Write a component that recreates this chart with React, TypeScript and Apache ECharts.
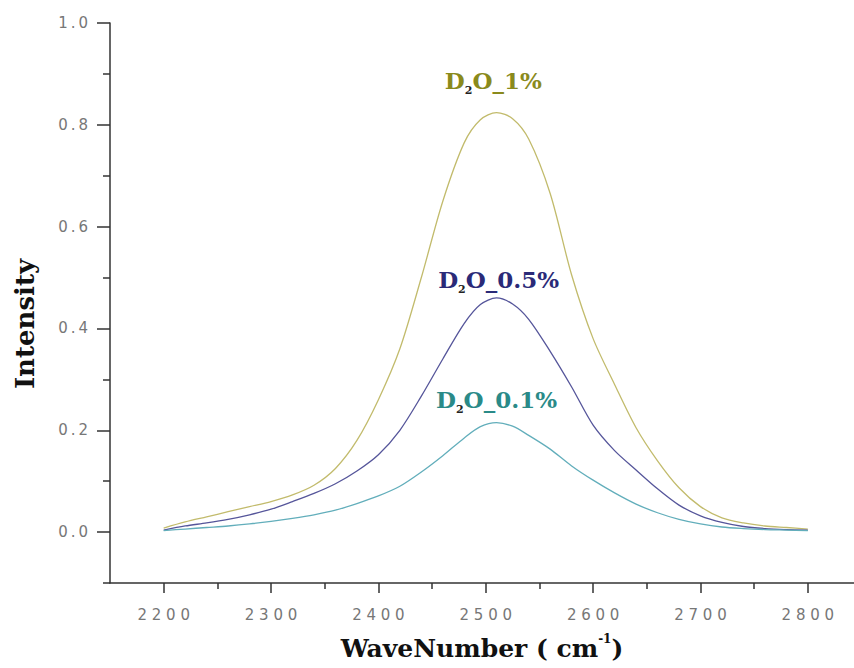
import React, { useEffect, useRef } from "react";
import * as echarts from "echarts";

const waveNumbers = [2200, 2220, 2240, 2260, 2280, 2300, 2320, 2340, 2360, 2380, 2400, 2420, 2440, 2460, 2480, 2495, 2510, 2525, 2540, 2560, 2580, 2600, 2620, 2640, 2660, 2680, 2700, 2720, 2740, 2760, 2780, 2800];
const d2o1 = [0.008, 0.02, 0.03, 0.04, 0.05, 0.06, 0.073, 0.092, 0.125, 0.18, 0.26, 0.36, 0.5, 0.65, 0.765, 0.81, 0.824, 0.812, 0.772, 0.665, 0.505, 0.38, 0.29, 0.205, 0.14, 0.087, 0.05, 0.028, 0.018, 0.012, 0.009, 0.006];
const d2o05 = [0.004, 0.012, 0.018, 0.025, 0.034, 0.045, 0.06, 0.076, 0.095, 0.12, 0.152, 0.2, 0.267, 0.34, 0.41, 0.447, 0.46, 0.448, 0.418, 0.355, 0.285, 0.21, 0.16, 0.122, 0.085, 0.053, 0.032, 0.019, 0.011, 0.007, 0.005, 0.004];
const d2o01 = [0.003, 0.006, 0.009, 0.012, 0.016, 0.021, 0.027, 0.034, 0.043, 0.056, 0.071, 0.09, 0.118, 0.15, 0.185, 0.207, 0.215, 0.208, 0.19, 0.163, 0.13, 0.102, 0.077, 0.055, 0.038, 0.025, 0.016, 0.01, 0.007, 0.005, 0.004, 0.003];

const xMajorTicks = [2200, 2300, 2400, 2500, 2600, 2700, 2800];
const xMinorTicks = [2250, 2350, 2450, 2550, 2650, 2750];
const yMajorTicks = [0, 0.2, 0.4, 0.6, 0.8, 1.0];
const yMinorTicks = [-0.1, 0.1, 0.3, 0.5, 0.7, 0.9];

const seriesDefs = [
  { name: "D2O_1%", values: d2o1, line: "#c2bb6c", text: "#8a8a1c", labelAt: [2507, 0.888], label: "D{sub|2}O_1%" },
  { name: "D2O_0.5%", values: d2o05, line: "#55559a", text: "#2a2a78", labelAt: [2512, 0.496], label: "D{sub|2}O_0.5%" },
  { name: "D2O_0.1%", values: d2o01, line: "#62aebb", text: "#2a8a88", labelAt: [2510, 0.261], label: "D{sub|2}O_0.1%" },
];

const AXIS_COLOR = "#333";
const LABEL_COLOR = "#777";

export default function App() {
  const ref = useRef<HTMLDivElement>(null);
  useEffect(() => {
    if (!ref.current) return;
    const chart = echarts.init(ref.current, null, { renderer: "svg" });
    const xBase = {
      type: "value",
      min: 2150,
      max: 2843,
      gridIndex: 0,
      position: "bottom",
      splitLine: { show: false },
    };
    const yBase = {
      type: "value",
      min: -0.1,
      max: 1.0,
      gridIndex: 0,
      position: "left",
      splitLine: { show: false },
    };
    chart.setOption({
      animation: false,
      backgroundColor: "#fff",
      grid: { left: 110, right: 0, top: 23, bottom: 85, containLabel: false },
      xAxis: [
        {
          ...xBase,
          name: "WaveNumber ( cm{sup|-1})",
          nameLocation: "middle",
          nameGap: 50,
          nameTextStyle: {
            fontFamily: "DejaVu Serif",
            fontWeight: "bold",
            fontSize: 25,
            color: "#111",
            rich: {
              sup: { fontFamily: "DejaVu Serif", fontWeight: "bold", fontSize: 12, color: "#111", padding: [0, 0, 18, 0] },
            },
          },
          axisLine: { show: true, onZero: false, lineStyle: { color: AXIS_COLOR, width: 1.5 } },
          axisTick: { show: true, inside: false, length: 10, customValues: xMajorTicks, lineStyle: { color: AXIS_COLOR, width: 1.5 } },
          axisLabel: {
            customValues: xMajorTicks,
            margin: 24,
            color: LABEL_COLOR,
            fontFamily: "DejaVu Sans",
            fontSize: 15,
            formatter: (v: number) => String(v).split("").join(" "),
          },
        },
        {
          ...xBase,
          axisLine: { show: false, onZero: false },
          axisTick: { show: true, inside: false, length: 6, customValues: xMinorTicks, lineStyle: { color: AXIS_COLOR, width: 1.5 } },
          axisLabel: { show: false },
        },
      ],
      yAxis: [
        {
          ...yBase,
          name: "Intensity",
          nameLocation: "middle",
          nameGap: 72,
          nameTextStyle: { fontFamily: "DejaVu Serif", fontWeight: "bold", fontSize: 26, color: "#111", padding: [0, 42, 0, 0] },
          axisLine: { show: true, onZero: false, lineStyle: { color: AXIS_COLOR, width: 1.5 } },
          axisTick: { show: true, inside: false, length: 13, customValues: yMajorTicks, lineStyle: { color: AXIS_COLOR, width: 1.5 } },
          axisLabel: {
            customValues: yMajorTicks,
            margin: 22,
            color: LABEL_COLOR,
            fontFamily: "DejaVu Sans",
            fontSize: 15,
            formatter: (v: number) => v.toFixed(1).split("").join("\u2009"),
          },
        },
        {
          ...yBase,
          axisLine: { show: false, onZero: false },
          axisTick: { show: true, inside: false, length: 7, customValues: yMinorTicks, lineStyle: { color: AXIS_COLOR, width: 1.5 } },
          axisLabel: { show: false },
        },
      ],
      series: seriesDefs.map((s) => ({
        name: s.name,
        type: "line",
        xAxisIndex: 0,
        yAxisIndex: 0,
        smooth: 0.3,
        symbol: "none",
        lineStyle: { color: s.line, width: 1.3 },
        data: waveNumbers.map((w, i) => [w, s.values[i]]),
        markPoint: {
          symbol: "circle",
          symbolSize: 0,
          silent: true,
          data: [
            {
              coord: s.labelAt,
              label: {
                show: true,
                position: "inside",
                formatter: s.label,
                color: s.text,
                fontFamily: "DejaVu Serif",
                fontWeight: "bold",
                fontSize: 23,
                rich: {
                  sub: { fontFamily: "DejaVu Serif", fontWeight: "bold", fontSize: 11, color: "#222", padding: [20, 0, 0, 0] },
                },
              },
            },
          ],
        },
      })),
    });
    return () => chart.dispose();
  }, []);
  return <div ref={ref} style={{ width: 854, height: 668, position: "absolute", left: 0, top: 0 }} />;
}
